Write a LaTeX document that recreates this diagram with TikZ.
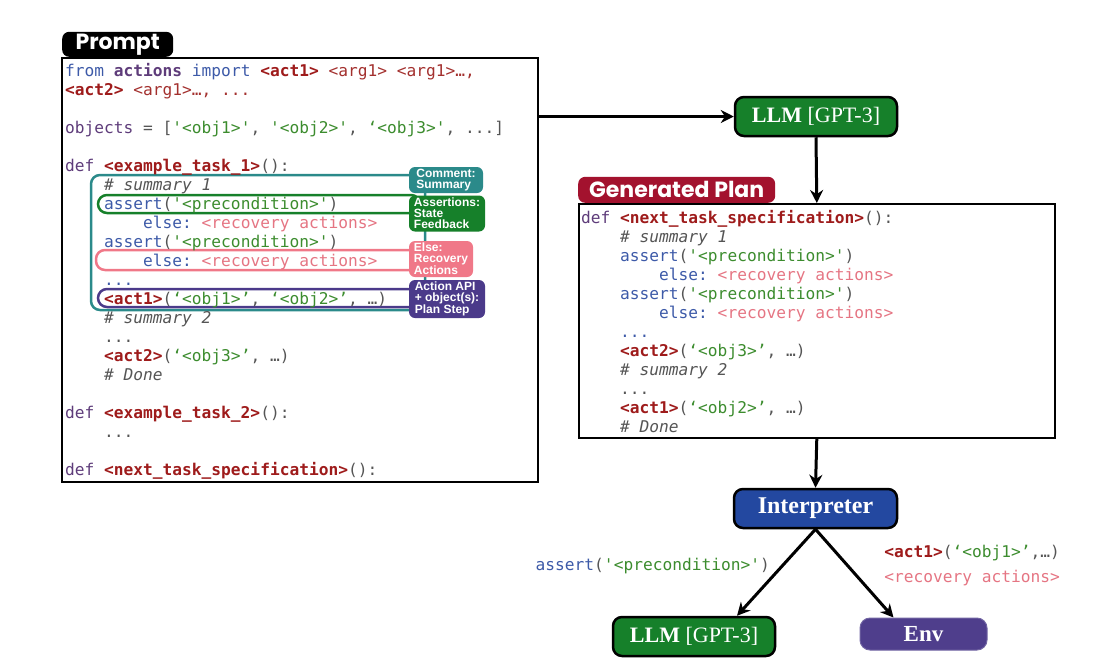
\documentclass[tikz,border=0pt]{standalone}
\usepackage{fontspec}
\setmonofont{DejaVu Sans Mono}
\newfontfamily\hdrfont{Poppins}
\newfontfamily\boxfont{Liberation Serif}
\newfontfamily\tagfont{Liberation Sans}
\usetikzlibrary{arrows.meta,positioning}

\definecolor{kwblue}{HTML}{3D5AA8}
\definecolor{defpurple}{HTML}{5E3C7A}
\definecolor{actred}{HTML}{9E1B1B}
\definecolor{argred}{HTML}{A3302E}
\definecolor{strgreen}{HTML}{3C8C2E}
\definecolor{puncgray}{HTML}{555555}
\definecolor{recpink}{HTML}{E57583}
\definecolor{tealc}{HTML}{2B8A8A}
\definecolor{greenc}{HTML}{16802A}
\definecolor{pinkc}{HTML}{F07888}
\definecolor{purplec}{HTML}{4B3A8A}
\definecolor{genred}{HTML}{A3122E}
\definecolor{interblue}{HTML}{2348A0}
\definecolor{envpurple}{HTML}{4F3E8C}

% code colouring
\newcommand\kw[1]{\textcolor{kwblue}{#1}}
\newcommand\df[1]{\textcolor{defpurple}{#1}}
\newcommand\act[1]{\textcolor{actred}{\bfseries #1}}
\newcommand\argr[1]{\textcolor{argred}{#1}}
\newcommand\strg[1]{\textcolor{strgreen}{#1}}
\newcommand\pn[1]{\textcolor{puncgray}{#1}}
\newcommand\cmt[1]{\textcolor{puncgray}{\itshape #1}}
\newcommand\rec[1]{\textcolor{recpink}{#1}}
\newcommand\ind{\phantom{xxxx}}

\tikzset{
  code/.style={inner sep=0pt, align=left, font=\ttfamily\fontsize{16.2}{19}\selectfont},
  frame/.style={draw=black, line width=1.6pt, inner sep=0pt},
  hdr/.style={fill=#1, text=white, rounded corners=7pt, inner sep=0pt, font=\hdrfont\bfseries\fontsize{22}{22}\selectfont},
  tag/.style={fill=#1, text=white, rounded corners=6pt, inner sep=0pt, align=left, font=\tagfont\bfseries\fontsize{12}{11}\selectfont},
  hilite/.style={draw=#1, line width=2.5pt, rounded corners=9pt},
  llmbox/.style={draw=black, line width=2.5pt, fill=#1, text=white, rounded corners=9pt, minimum width=162pt, minimum height=39pt, inner sep=0pt, font=\boxfont\fontsize{22}{22}\selectfont},
  arr/.style={line width=3pt, -{Stealth[length=13pt,width=13pt]}},
}

\begin{document}
\begin{tikzpicture}[x=1pt,y=-1pt]
	\useasboundingbox (0,0) rectangle (1120,665);

	% prompt
	\node[frame, minimum width=476pt, minimum height=424pt, anchor=north west] (prompt) at (61,57) {};
	\node[hdr=black, minimum width=111pt, minimum height=25pt, anchor=south west] (plabel) at (62,57) {Prompt};

	\draw[hilite=tealc] (91,175) rectangle (425,310);
	\draw[hilite=greenc] (98,195) rectangle (420,213);
	\draw[hilite=pinkc] (96,250) rectangle (420,270);
	\draw[hilite=purplec] (98,289) rectangle (420,307);

	\node[tag=tealc, minimum width=74pt, minimum height=26pt] (tcmt) at (446,180) {Comment:\\Summary};
	\node[tag=greenc, minimum width=76pt, minimum height=36pt] (tassert) at (447,213.5) {Assertions:\\State\\Feedback};
	\node[tag=pinkc, minimum width=64pt, minimum height=36pt] (telse) at (441,259) {Else:\\Recovery\\Actions};
	\node[tag=purplec, minimum width=76pt, minimum height=38pt] (tact) at (447,299) {Action API\\+ object(s):\\Plan Step};

	\node[code, anchor=north west] (pcode) at (65,62.7) {%
\kw{from} \textcolor{defpurple}{\bfseries actions} \kw{import} \act{<act1>} \argr{<arg1> <arg1>…,}\\
\act{<act2>} \argr{<arg1>…, ...}\\
\mbox{}\\
\df{objects} \pn{= [}\strg{'<obj1>'}\pn{, }\strg{'<obj2>'}\pn{, }\strg{‘<obj3>'}\pn{, ...]}\\
\mbox{}\\
\df{def} \act{<example\_task\_1>}\pn{():}\\
\ind\cmt{\# summary 1}\\
\ind\kw{assert}\pn{(}\strg{'<precondition>'}\pn{)}\\
\ind\ind\kw{else:} \rec{<recovery actions>}\\
\ind\kw{assert}\pn{(}\strg{'<precondition>'}\pn{)}\\
\ind\ind\kw{else:} \rec{<recovery actions>}\\
\ind\kw{...}\\
\ind\act{<act1>}\pn{(}\strg{‘<obj1>’}\pn{, }\strg{‘<obj2>’}\pn{, …)}\\
\ind\cmt{\# summary 2}\\
\ind\pn{...}\\
\ind\act{<act2>}\pn{(}\strg{‘<obj3>’}\pn{, …)}\\
\ind\cmt{\# Done}\\
\mbox{}\\
\df{def} \act{<example\_task\_2>}\pn{():}\\
\ind\pn{...}\\
\mbox{}\\
\df{def} \act{<next\_task\_specification>}\pn{():}};

	% generated plan
	\node[frame, minimum width=476pt, minimum height=234pt, anchor=north west] (plan) at (578,203) {};
	\node[hdr=genred, minimum width=197pt, minimum height=26pt, anchor=south west] (glabel) at (578,203) {Generated Plan};
	\node[code, anchor=north west] (gcode) at (581,209.7) {%
\df{def} \act{<next\_task\_specification>}\pn{():}\\
\ind\cmt{\# summary 1}\\
\ind\kw{assert}\pn{(}\strg{'<precondition>'}\pn{)}\\
\ind\ind\kw{else:} \rec{<recovery actions>}\\
\ind\kw{assert}\pn{(}\strg{'<precondition>'}\pn{)}\\
\ind\ind\kw{else:} \rec{<recovery actions>}\\
\ind\kw{...}\\
\ind\act{<act2>}\pn{(}\strg{‘<obj3>’}\pn{, …)}\\
\ind\cmt{\# summary 2}\\
\ind\pn{...}\\
\ind\act{<act1>}\pn{(}\strg{‘<obj2>’}\pn{, …)}\\
\ind\cmt{\# Done}};

	% models and interpreter
	\node[llmbox=greenc] (llm) at (816,116.5) {\textbf{LLM} [GPT-3]};
	\node[llmbox=interblue, minimum width=163pt, font=\boxfont\fontsize{24}{24}\selectfont] (interp) at (815.5,508.5) {\textbf{Interpreter}};
	\node[llmbox=greenc] (llmb) at (694,636.5) {\textbf{LLM} [GPT-3]};
	\node[fill=envpurple, draw=envpurple!80!white, line width=1pt, rounded corners=10pt, minimum width=127pt, minimum height=32pt, inner sep=0pt, text=white, font=\boxfont\bfseries\fontsize{23}{23}\selectfont] (env) at (923.5,634) {Env};

	\node[code, anchor=base east] (lassert) at (770,570.5) {\kw{assert}\pn{(}\strg{'<precondition>'}\pn{)}};
	\node[code, anchor=base east] (lact) at (1060,557.5) {\act{<act1>}\pn{(}\strg{‘<obj1>’}\pn{,…)}};
	\node[code, anchor=base east] (lrec) at (1060,582.5) {\rec{<recovery actions>}};

	\draw[arr] (prompt.east |- llm.west) -- (llm.west);
	\draw[arr] (llm.south) -- (plan.north);
	\draw[arr] (plan.south) -- (interp.north);
	\draw[arr] (interp.south) -- ([xshift=43pt]llmb.north);
	\draw[arr] (interp.south) -- ([xshift=-30pt]env.north);
\end{tikzpicture}
\end{document}
